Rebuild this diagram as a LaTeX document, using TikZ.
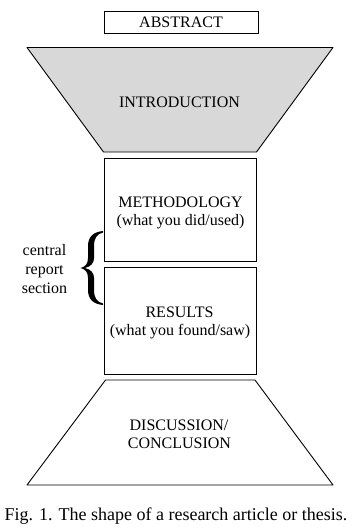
\documentclass[tikz,border=0pt]{standalone}
\usepackage{fontspec}
\setmainfont{Liberation Serif}
\definecolor{introgray}{RGB}{216,216,216}
\begin{document}
\begin{tikzpicture}[x=1pt,y=-1pt,
  lbl/.style={font=\fontsize{16}{19}\selectfont, inner sep=0pt, anchor=base},
  box/.style={draw, line width=0.9pt, inner sep=0pt},
  funnel/.style={draw, line width=0.9pt, line join=round}]
\useasboundingbox (0,0) rectangle (352,532);
% abstract
\node[box, minimum width=154pt, minimum height=21.6pt, font=\fontsize{16}{19}\selectfont] (abstract) at (181,22.5) {ABSTRACT};
% introduction funnel
\path[funnel, fill=introgray] (27,47.5) -- (333,47.5) -- (256.5,152) -- (103.5,152) -- cycle;
\node[lbl] (intro) at (179.5,107.5) {INTRODUCTION};
% methodology
\node[box, minimum width=152pt, minimum height=103pt] (meth) at (180,209.5) {};
\node[lbl] (meth1) at (180.5,207) {METHODOLOGY};
\node[lbl] (meth2) at (180.5,225) {(what you did/used)};
% results
\node[box, minimum width=152pt, minimum height=107pt] (res) at (180,320.5) {};
\node[lbl] (res1) at (179.5,317) {RESULTS};
\node[lbl] (res2) at (180,335.5) {(what you found/saw)};
% discussion funnel
\path[funnel] (105.5,380) -- (255,380) -- (333,485) -- (27,485) -- cycle;
\node[lbl] (disc1) at (179,430) {DISCUSSION/};
\node[lbl] (disc2) at (179.5,448) {CONCLUSION};
% brace
\fill (103,231) .. controls (93,232) and (88,237) .. (88,246) -- (88,258)
  .. controls (88,264) and (85,267) .. (80.5,268)
  .. controls (85,269) and (88,272) .. (88,278) -- (88,290)
  .. controls (88,299) and (93,304) .. (103,305) -- (103,303.5)
  .. controls (97,302) and (94,298) .. (94,290) -- (94,278)
  .. controls (94,273) and (91,269.5) .. (85,268)
  .. controls (91,266.5) and (94,263) .. (94,258) -- (94,246)
  .. controls (94,238) and (97,234) .. (103,232.5) -- cycle;
\node[lbl] (c1) at (44.5,255) {central};
\node[lbl] (c2) at (44.5,274) {report};
\node[lbl] (c3) at (44.5,293) {section};
% caption
\node[lbl, font=\fontsize{18}{21}\selectfont] (cap) at (176,520) {Fig. 1. The shape of a research article or thesis.};
\end{tikzpicture}
\end{document}
